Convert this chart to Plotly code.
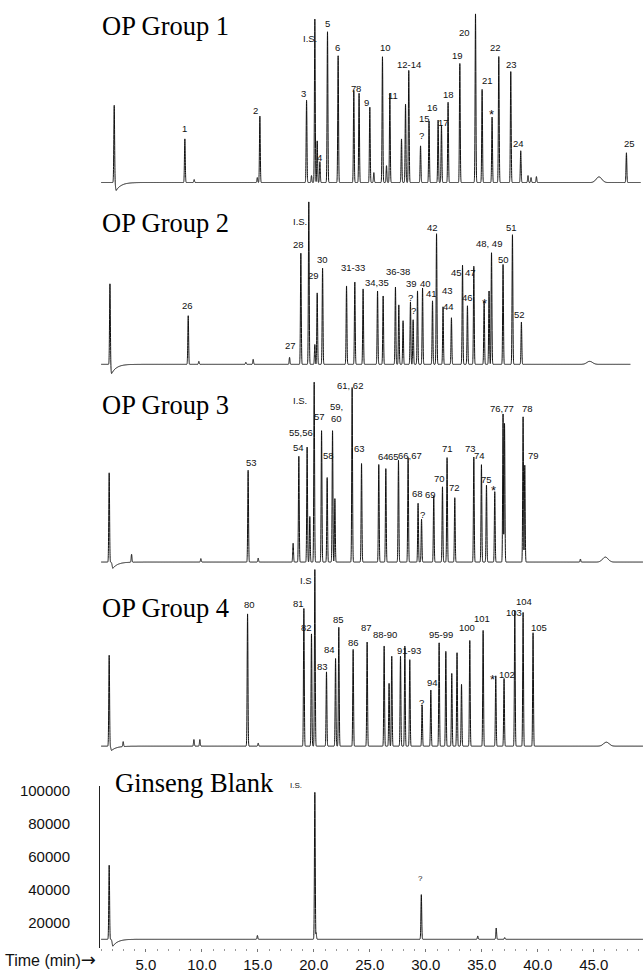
import numpy as np
import plotly.graph_objects as go

BASELINE = 10000
T_LEFT, T_RIGHT = 0.9, 49.4

# ---------------- OP Group 1 ----------------
g1_rt = [2.17, 8.48, 9.31, 14.95, 15.18, 19.35, 19.79, 20.09, 20.30, 20.54, 21.22, 22.17, 23.57, 24.04,
         25.00, 25.36, 26.13, 26.49, 26.79, 27.83, 28.19, 28.48, 29.53, 30.29, 31.10, 31.40, 31.99, 33.04,
         34.44, 35.03, 35.92, 36.52, 37.59, 38.48, 39.13, 39.40, 39.88, 47.92]
g1_int = [56800, 36400, 11800, 13000, 50200, 59800, 14200, 109000, 35200, 22600, 101200, 86800, 65800, 64000,
          55600, 16000, 86200, 20200, 64000, 36400, 57400, 77800, 32200, 47200, 47800, 44800, 58600, 82000,
          112000, 66400, 49600, 86200, 77200, 29200, 14200, 13000, 13600, 28000]
g1_broad_rt, g1_broad_int = [45.47], [13400]
g1_dip_rt, g1_dip_depth = 2.35, 4800
g1_end = 49.2
g1_lab_txt = ["1", "2", "3", "I.S.", "4", "5", "6", "7", "8", "9", "10", "11", "12-14", "?", "15", "16", "17",
              "18", "19", "20", "21", "*", "22", "23", "24", "25"]
g1_lab_rt = [8.48, 14.79, 19.08, 19.64, 20.54, 21.19, 22.08, 23.51, 23.96, 24.71, 26.40, 27.08, 28.51, 29.58,
             29.91, 30.60, 31.61, 31.99, 32.79, 33.42, 35.51, 35.87, 36.22, 37.65, 38.24, 48.15]
g1_lab_int = [42400, 53600, 63600, 97000, 25000, 106000, 91400, 67000, 67000, 58600, 91400, 62600, 81400, 38600,
              48600, 55400, 46600, 63000, 86600, 100600, 72000, 54400, 91400, 81400, 33600, 33600]

# ---------------- OP Group 2 ----------------
g2_rt = [1.79, 8.78, 9.73, 13.93, 14.58, 17.83, 18.84, 19.55, 20.09, 20.30, 20.78, 22.92, 23.66, 24.40, 25.69,
         26.19, 27.29, 27.59, 27.97, 28.63, 28.87, 29.26, 29.71, 30.60, 30.96, 31.54, 32.29, 33.28, 33.72, 34.29,
         35.21, 35.65, 35.87, 36.90, 37.74, 38.54]
g2_int = [59000, 39400, 11800, 11200, 13000, 14200, 77200, 108400, 22000, 53200, 68200, 57400, 59800, 55600, 54400,
          51400, 56800, 46000, 36400, 47800, 37000, 54400, 56200, 48400, 89000, 44800, 38200, 70000, 45400, 69400,
          48400, 54400, 77600, 70400, 88400, 35600]
g2_broad_rt, g2_broad_int = [44.64], [11800]
g2_dip_rt, g2_dip_depth = 1.94, 5600
g2_end = 48.28
g2_lab_txt = ["26", "27", "I.S.", "28", "29", "30", "31-33", "34,35", "36-38", "?", "?", "39", "40", "41", "42",
              "43", "44", "45", "47", "46", "*", "48, 49", "50", "51", "52"]
g2_lab_rt = [8.72, 17.92, 18.75, 18.66, 20.00, 20.74, 23.51, 25.60, 27.53, 28.63, 28.87, 28.71, 30.00, 30.50, 30.60,
             31.90, 31.99, 32.74, 34.02, 33.72, 35.21, 35.63, 36.96, 37.65, 38.33]
g2_lab_int = [45400, 21600, 96400, 82600, 64000, 73400, 68400, 59400, 66000, 50400, 42600, 59000, 59000, 53000,
              92600, 54400, 45000, 65400, 65400, 50600, 50000, 83000, 73400, 92600, 40400]

# ---------------- OP Group 3 ----------------
g3_rt = [1.72, 3.72, 9.91, 14.13, 15.03, 18.15, 18.66, 19.40, 19.64, 20.03, 20.69, 21.19, 21.67, 21.88, 23.42,
         24.26, 25.80, 26.43, 27.56, 28.42, 29.31, 29.62, 30.71, 31.49, 31.90, 32.59, 34.29, 34.97, 35.42, 36.16,
         36.90, 37.03, 38.69, 38.84, 43.81]
g3_int = [64000, 14800, 12100, 65600, 12400, 21400, 74000, 79600, 37600, 119000, 89600, 61200, 89600, 48400, 115600,
          69600, 69000, 66600, 71600, 73200, 45600, 36000, 50000, 55600, 73200, 49000, 73600, 69000, 56600, 52600,
          99600, 94000, 98000, 68600, 11800]
g3_broad_rt, g3_broad_int = [46.04], [13000]
g3_dip_rt, g3_dip_depth = 2.05, 3800
g3_end = 49.4
g3_lab_txt = ["53", "54", "55,56", "I.S.", "57", "59,", "60", "58", "61, 62", "63", "64", "65", "66,67", "68", "?",
              "69", "70", "71", "72", "73", "74", "75", "*", "76,77", "78", "79"]
g3_lab_rt = [14.44, 18.60, 18.84, 18.75, 20.54, 22.03, 22.03, 21.28, 23.21, 24.11, 26.20, 27.12, 28.58, 29.22, 29.71,
             30.42, 31.25, 31.90, 32.59, 34.02, 34.82, 35.42, 36.01, 36.81, 39.08, 39.58]
g3_lab_int = [70000, 79200, 88200, 107600, 98200, 104200, 96600, 74200, 116600, 79000, 74000, 74000, 74600, 51200,
              38600, 50600, 60600, 78600, 55200, 78600, 74600, 60200, 56000, 103000, 103000, 74200]

# ---------------- OP Group 4 ----------------
g4_rt = [1.72, 2.97, 9.29, 9.82, 14.08, 15.03, 19.11, 19.79, 20.09, 21.13, 21.94, 22.23, 23.51, 24.76, 26.28,
         26.72, 26.96, 27.74, 28.13, 28.57, 29.67, 30.45, 31.19, 31.79, 32.32, 32.79, 33.19, 33.93, 35.12, 36.25,
         36.99, 37.95, 38.69, 39.58]
g4_int = [65000, 13000, 14000, 14000, 90000, 11800, 93400, 78000, 117000, 55000, 63000, 82000, 68600, 73000, 70600,
          48000, 64400, 64400, 70600, 62400, 35000, 44000, 72600, 67400, 54000, 66600, 47400, 74000, 80000, 52600,
          51000, 92000, 91000, 78600]
g4_broad_rt, g4_broad_int = [46.13], [12400]
g4_dip_rt, g4_dip_depth = 1.94, 2600
g4_end = 49.4
g4_lab_txt = ["80", "81", "I.S", "82", "83", "84", "85", "86", "87", "88-90", "91-93", "?", "94", "95-99", "100",
              "101", "*", "102", "103", "104", "105"]
g4_lab_rt = [14.22, 18.60, 19.29, 19.35, 20.74, 21.43, 22.17, 23.57, 24.71, 26.34, 28.51, 29.62, 30.60, 31.34, 33.72,
             35.06, 35.96, 37.21, 37.90, 38.74, 40.09]
g4_lab_int = [95600, 96000, 110000, 82000, 58400, 68400, 86600, 72400, 82000, 77400, 68000, 36400, 48600, 77400,
              82000, 87000, 53600, 53600, 91000, 97600, 82000]

# ---------------- Ginseng Blank ----------------
g5_rt = [1.72, 14.96, 20.09, 20.20, 29.60, 34.64, 36.29, 37.05]
g5_int = [54800, 12300, 99000, 14000, 37000, 12000, 16800, 11000]
g5_broad_rt, g5_broad_int = [], []
g5_dip_rt, g5_dip_depth = 2.05, 4200
g5_end = 49.4
g5_lab_txt = ["I.S.", "?"]
g5_lab_rt = [18.45, 29.55]
g5_lab_int = [103000, 46600]

titles = ["OP Group 1", "OP Group 2", "OP Group 3", "OP Group 4", "Ginseng Blank"]
y_tick_vals = [20000, 40000, 60000, 80000, 100000]
y_tick_text = ["20000", "40000", "60000", "80000", "100000"]
x_tick_vals = [5, 10, 15, 20, 25, 30, 35, 40, 45]
x_tick_text = ["5.0", "10.0", "15.0", "20.0", "25.0", "30.0", "35.0", "40.0", "45.0"]

panels = [
    (g1_rt, g1_int, g1_broad_rt, g1_broad_int, g1_dip_rt, g1_dip_depth, g1_end, g1_lab_txt, g1_lab_rt, g1_lab_int),
    (g2_rt, g2_int, g2_broad_rt, g2_broad_int, g2_dip_rt, g2_dip_depth, g2_end, g2_lab_txt, g2_lab_rt, g2_lab_int),
    (g3_rt, g3_int, g3_broad_rt, g3_broad_int, g3_dip_rt, g3_dip_depth, g3_end, g3_lab_txt, g3_lab_rt, g3_lab_int),
    (g4_rt, g4_int, g4_broad_rt, g4_broad_int, g4_dip_rt, g4_dip_depth, g4_end, g4_lab_txt, g4_lab_rt, g4_lab_int),
    (g5_rt, g5_int, g5_broad_rt, g5_broad_int, g5_dip_rt, g5_dip_depth, g5_end, g5_lab_txt, g5_lab_rt, g5_lab_int),
]

# ---------------- layout geometry (pixels) ----------------
W, H = 643, 973
COUNTS_PER_PX = 600
BASE_PX = [180.0, 363.3, 562.7, 748.3, 943.0]
TITLE_PX = [(100, 22), (100, 221), (100, 404), (100, 609), (113, 785)]
X_LEFT_PX = 100
SIG_NARROW, SIG_BROAD, DIP_TAU = 0.035, 0.25, 0.45

SANS = "Liberation Sans, Arial, sans-serif"
SERIF = "Liberation Serif, Times New Roman, serif"


def chromatogram(rt, inten, brt, bint, dip_rt, dip_depth, end):
    t = np.arange(1.0, end, 0.004)
    pos = np.zeros_like(t)
    for r, a in zip(rt, inten):
        pos = np.maximum(pos, (a - BASELINE) * np.exp(-0.5 * ((t - r) / SIG_NARROW) ** 2))
    for r, a in zip(brt, bint):
        pos = np.maximum(pos, (a - BASELINE) * np.exp(-0.5 * ((t - r) / SIG_BROAD) ** 2))
    d = np.where(t >= dip_rt, np.exp(-(t - dip_rt) / DIP_TAU), np.exp(-0.5 * ((t - dip_rt) / 0.06) ** 2))
    return t, BASELINE + pos - dip_depth * d


fig = go.Figure()
annotations = []
layout_axes = {}
for i, p in enumerate(panels):
    rt, inten, brt, bint, dip_rt, dip_depth, end, ltxt, lrt, lint = p
    n = i + 1
    xa, ya = ("x" if n == 1 else f"x{n}"), ("y" if n == 1 else f"y{n}")
    t, y = chromatogram(rt, inten, brt, bint, dip_rt, dip_depth, end)
    fig.add_trace(go.Scatter(x=t, y=y, mode="lines", line=dict(color="#111111", width=1, simplify=False),
                             xaxis=xa, yaxis=ya, hoverinfo="skip", showlegend=False))
    B = BASE_PX[i]
    if n < 5:
        top_px, bot_px = max(B - 185, 0), B + 12
    else:
        top_px, bot_px = 788, 952
    dom = [1 - bot_px / H, 1 - top_px / H]
    yr = [BASELINE - (bot_px - B) * COUNTS_PER_PX, BASELINE + (B - top_px) * COUNTS_PER_PX]
    xkey = "xaxis" if n == 1 else f"xaxis{n}"
    ykey = "yaxis" if n == 1 else f"yaxis{n}"
    if n < 5:
        layout_axes[xkey] = dict(domain=[X_LEFT_PX / W, 1], range=[T_LEFT, T_RIGHT], anchor=ya, visible=False)
        layout_axes[ykey] = dict(domain=dom, range=yr, anchor=xa, visible=False)
    else:
        layout_axes[xkey] = dict(domain=[X_LEFT_PX / W, 1], range=[T_LEFT, T_RIGHT], anchor=ya,
                                 showgrid=False, zeroline=False, showline=False,
                                 ticks="outside", ticklen=3, tickwidth=1, tickcolor="#777777",
                                 tickvals=x_tick_vals, ticktext=x_tick_text,
                                 tickfont=dict(family=SANS, size=15, color="#111111"),
                                 minor=dict(dtick=1, tick0=0, ticks="outside", ticklen=2,
                                            tickcolor="#999999", showgrid=False))
        layout_axes[ykey] = dict(domain=dom, range=yr, anchor=xa, showgrid=False, zeroline=False,
                                 showline=True, linecolor="#222222", linewidth=1, ticks="",
                                 tickvals=y_tick_vals, ticktext=y_tick_text,
                                 tickfont=dict(family=SANS, size=15, color="#111111"),
                                 ticklabelstandoff=26)
    # peak labels
    fsize = 9.5 if n < 5 else 8
    for txt, r, a in zip(ltxt, lrt, lint):
        star = txt == "*"
        annotations.append(dict(x=r, y=a - (3000 if star else 0), xref=xa, yref=ya, text=txt,
                                showarrow=False, xanchor="center", yanchor="middle",
                                font=dict(family=SANS, size=13 if star else fsize, color="#111111")))
    # panel title
    tx, ty = TITLE_PX[i]
    annotations.append(dict(x=tx / W, y=1 - ty / H, xref="paper", yref="paper", text=titles[i],
                            showarrow=False, xanchor="left", yanchor="middle",
                            font=dict(family=SERIF, size=26.5, color="#000000")))

annotations.append(dict(x=3 / W, y=1 - 963 / H, xref="paper", yref="paper",
                        text="Time (min)<span style='font-family:DejaVu Sans;font-size:18px'>\u2192</span>",
                        showarrow=False, xanchor="left", yanchor="middle",
                        font=dict(family=SANS, size=16, color="#111111")))

fig.update_layout(width=W, height=H, margin=dict(l=0, r=0, t=0, b=0),
                  paper_bgcolor="white", plot_bgcolor="rgba(0,0,0,0)",
                  annotations=annotations, showlegend=False, **layout_axes)

fig.write_html("out.html", config={"displayModeBar": False},
               post_script="document.body.style.margin='0';document.body.style.overflow='hidden';")
